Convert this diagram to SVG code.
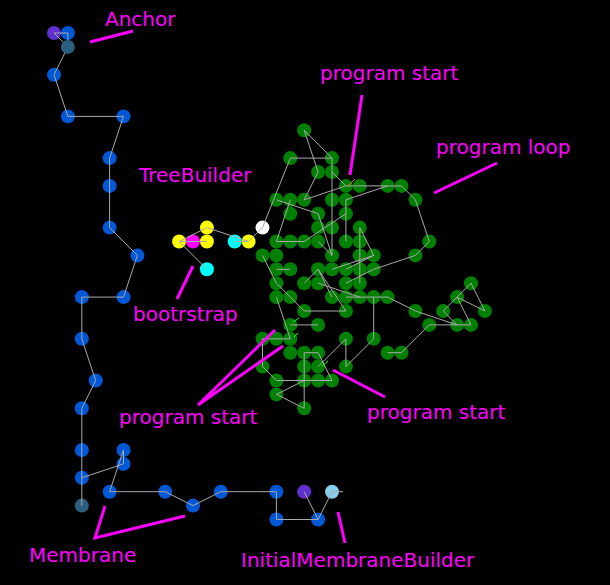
<svg xmlns="http://www.w3.org/2000/svg" width="610" height="585" viewBox="0 0 610 585">
<style>
.e{stroke:#aaaaaa;stroke-width:1;fill:none}
.a{stroke:#ff00ff;stroke-width:3;fill:none}
.t{fill:#ff00ff;font-family:"DejaVu Sans",sans-serif;font-size:20px}
.b{fill:#0058d6}
.g{fill:#008000}
.p{fill:#5f2fcf}
.tl{fill:#2a5f80}
.y{fill:#ffff00}
.m{fill:#ff00ff}
.c{fill:#00ffff}
.w{fill:#ffffff}
.lb{fill:#87ceeb}
</style>
<rect width="610" height="585" fill="#000000"/>

<g id="membrane-nodes">
<g id="m1"><circle class="p" cx="54" cy="33" r="7"/></g>
<g id="m2"><circle class="b" cx="67.9" cy="33" r="7"/></g>
<g id="m4"><circle class="b" cx="54" cy="74.7" r="7"/></g>
<g id="m5"><circle class="b" cx="67.9" cy="116.4" r="7"/></g>
<g id="m6"><circle class="b" cx="123.5" cy="116.4" r="7"/></g>
<g id="m7"><circle class="b" cx="109.6" cy="158.1" r="7"/></g>
<g id="m8"><circle class="b" cx="109.6" cy="185.9" r="7"/></g>
<g id="m9"><circle class="b" cx="109.6" cy="227.6" r="7"/></g>
<g id="m10"><circle class="b" cx="137.4" cy="255.4" r="7"/></g>
<g id="m11"><circle class="b" cx="123.5" cy="297.1" r="7"/></g>
<g id="m12"><circle class="b" cx="81.8" cy="297.1" r="7"/></g>
<g id="m13"><circle class="b" cx="81.8" cy="338.8" r="7"/></g>
<g id="m14"><circle class="b" cx="95.7" cy="380.5" r="7"/></g>
<g id="m15"><circle class="b" cx="81.8" cy="408.3" r="7"/></g>
<g id="m16"><circle class="b" cx="81.8" cy="450" r="7"/></g>
<g id="m17"><circle class="b" cx="123.5" cy="450" r="7"/></g>
<g id="m18"><circle class="b" cx="123.5" cy="463.9" r="7"/></g>
<g id="m19"><circle class="b" cx="81.8" cy="477.8" r="7"/></g>
<g id="m20"><circle class="tl" cx="81.8" cy="505.6" r="7"/></g>
<g id="m21"><circle class="b" cx="109.6" cy="491.7" r="7"/></g>
<g id="m22"><circle class="b" cx="165.2" cy="491.7" r="7"/></g>
<g id="m23"><circle class="b" cx="193" cy="505.6" r="7"/></g>
<g id="m24"><circle class="b" cx="220.8" cy="491.7" r="7"/></g>
<g id="m25"><circle class="b" cx="276.4" cy="491.7" r="7"/></g>
<g id="m26"><circle class="b" cx="276.4" cy="519.5" r="7"/></g>
<g id="m27"><circle class="b" cx="318.1" cy="519.5" r="7"/></g>
<g id="m28"><circle class="p" cx="304.2" cy="491.7" r="7"/></g>
<g id="m29"><circle class="lb" cx="332" cy="491.7" r="7"/></g>
</g>

<g id="bootstrap-nodes">
<g id="t1"><circle class="y" cx="206.9" cy="227.6" r="7"/></g>
<g id="t2"><circle class="y" cx="179.1" cy="241.5" r="7"/></g>
<g id="t3"><circle class="m" cx="193" cy="241.5" r="7"/></g>
<g id="t4"><circle class="y" cx="206.9" cy="241.5" r="7"/></g>
<g id="t5"><circle class="c" cx="234.7" cy="241.5" r="7"/></g>
<g id="t6"><circle class="y" cx="248.6" cy="241.5" r="7"/></g>
<g id="t7"><circle class="w" cx="262.5" cy="227.6" r="7"/></g>
<g id="t8"><circle class="c" cx="206.9" cy="269.3" r="7"/></g>
</g>

<g id="program-nodes">
<g id="g18-7"><circle class="g" cx="304.2" cy="130.3" r="7"/></g>
<g id="g17-9"><circle class="g" cx="290.3" cy="158.1" r="7"/></g>
<g id="g20-9"><circle class="g" cx="332" cy="158.1" r="7"/></g>
<g id="g19-10"><circle class="g" cx="318.1" cy="172" r="7"/></g>
<g id="g20-10"><circle class="g" cx="332" cy="172" r="7"/></g>
<g id="g21-11"><circle class="g" cx="345.9" cy="185.9" r="7"/></g>
<g id="g22-11"><circle class="g" cx="359.8" cy="185.9" r="7"/></g>
<g id="g24-11"><circle class="g" cx="387.6" cy="185.9" r="7"/></g>
<g id="g25-11"><circle class="g" cx="401.5" cy="185.9" r="7"/></g>
<g id="g16-12"><circle class="g" cx="276.4" cy="199.8" r="7"/></g>
<g id="g17-12"><circle class="g" cx="290.3" cy="199.8" r="7"/></g>
<g id="g18-12"><circle class="g" cx="304.2" cy="199.8" r="7"/></g>
<g id="g20-12"><circle class="g" cx="332" cy="199.8" r="7"/></g>
<g id="g21-12"><circle class="g" cx="345.9" cy="199.8" r="7"/></g>
<g id="g26-12"><circle class="g" cx="415.4" cy="199.8" r="7"/></g>
<g id="g17-13"><circle class="g" cx="290.3" cy="213.7" r="7"/></g>
<g id="g19-13"><circle class="g" cx="318.1" cy="213.7" r="7"/></g>
<g id="g21-13"><circle class="g" cx="345.9" cy="213.7" r="7"/></g>
<g id="g19-14"><circle class="g" cx="318.1" cy="227.6" r="7"/></g>
<g id="g20-14"><circle class="g" cx="332" cy="227.6" r="7"/></g>
<g id="g22-14"><circle class="g" cx="359.8" cy="227.6" r="7"/></g>
<g id="g16-15"><circle class="g" cx="276.4" cy="241.5" r="7"/></g>
<g id="g17-15"><circle class="g" cx="290.3" cy="241.5" r="7"/></g>
<g id="g18-15"><circle class="g" cx="304.2" cy="241.5" r="7"/></g>
<g id="g19-15"><circle class="g" cx="318.1" cy="241.5" r="7"/></g>
<g id="g21-15"><circle class="g" cx="345.9" cy="241.5" r="7"/></g>
<g id="g22-15"><circle class="g" cx="359.8" cy="241.5" r="7"/></g>
<g id="g27-15"><circle class="g" cx="429.3" cy="241.5" r="7"/></g>
<g id="g15-16"><circle class="g" cx="262.5" cy="255.4" r="7"/></g>
<g id="g16-16"><circle class="g" cx="276.4" cy="255.4" r="7"/></g>
<g id="g20-16"><circle class="g" cx="332" cy="255.4" r="7"/></g>
<g id="g22-16"><circle class="g" cx="359.8" cy="255.4" r="7"/></g>
<g id="g23-16"><circle class="g" cx="373.7" cy="255.4" r="7"/></g>
<g id="g26-16"><circle class="g" cx="415.4" cy="255.4" r="7"/></g>
<g id="g16-17"><circle class="g" cx="276.4" cy="269.3" r="7"/></g>
<g id="g17-17"><circle class="g" cx="290.3" cy="269.3" r="7"/></g>
<g id="g19-17"><circle class="g" cx="318.1" cy="269.3" r="7"/></g>
<g id="g20-17"><circle class="g" cx="332" cy="269.3" r="7"/></g>
<g id="g21-17"><circle class="g" cx="345.9" cy="269.3" r="7"/></g>
<g id="g22-17"><circle class="g" cx="359.8" cy="269.3" r="7"/></g>
<g id="g23-17"><circle class="g" cx="373.7" cy="269.3" r="7"/></g>
<g id="g16-18"><circle class="g" cx="276.4" cy="283.2" r="7"/></g>
<g id="g18-18"><circle class="g" cx="304.2" cy="283.2" r="7"/></g>
<g id="g19-18"><circle class="g" cx="318.1" cy="283.2" r="7"/></g>
<g id="g21-18"><circle class="g" cx="345.9" cy="283.2" r="7"/></g>
<g id="g22-18"><circle class="g" cx="359.8" cy="283.2" r="7"/></g>
<g id="g30-18"><circle class="g" cx="471" cy="283.2" r="7"/></g>
<g id="g16-19"><circle class="g" cx="276.4" cy="297.1" r="7"/></g>
<g id="g17-19"><circle class="g" cx="290.3" cy="297.1" r="7"/></g>
<g id="g20-19"><circle class="g" cx="332" cy="297.1" r="7"/></g>
<g id="g21-19"><circle class="g" cx="345.9" cy="297.1" r="7"/></g>
<g id="g22-19"><circle class="g" cx="359.8" cy="297.1" r="7"/></g>
<g id="g23-19"><circle class="g" cx="373.7" cy="297.1" r="7"/></g>
<g id="g24-19"><circle class="g" cx="387.6" cy="297.1" r="7"/></g>
<g id="g29-19"><circle class="g" cx="457.1" cy="297.1" r="7"/></g>
<g id="g18-20"><circle class="g" cx="304.2" cy="311" r="7"/></g>
<g id="g21-20"><circle class="g" cx="345.9" cy="311" r="7"/></g>
<g id="g26-20"><circle class="g" cx="415.4" cy="311" r="7"/></g>
<g id="g28-20"><circle class="g" cx="443.2" cy="311" r="7"/></g>
<g id="g31-20"><circle class="g" cx="484.9" cy="311" r="7"/></g>
<g id="g17-21"><circle class="g" cx="290.3" cy="324.9" r="7"/></g>
<g id="g19-21"><circle class="g" cx="318.1" cy="324.9" r="7"/></g>
<g id="g27-21"><circle class="g" cx="429.3" cy="324.9" r="7"/></g>
<g id="g29-21"><circle class="g" cx="457.1" cy="324.9" r="7"/></g>
<g id="g30-21"><circle class="g" cx="471" cy="324.9" r="7"/></g>
<g id="g15-22"><circle class="g" cx="262.5" cy="338.8" r="7"/></g>
<g id="g16-22"><circle class="g" cx="276.4" cy="338.8" r="7"/></g>
<g id="g17-22"><circle class="g" cx="290.3" cy="338.8" r="7"/></g>
<g id="g21-22"><circle class="g" cx="345.9" cy="338.8" r="7"/></g>
<g id="g23-22"><circle class="g" cx="373.7" cy="338.8" r="7"/></g>
<g id="g17-23"><circle class="g" cx="290.3" cy="352.7" r="7"/></g>
<g id="g18-23"><circle class="g" cx="304.2" cy="352.7" r="7"/></g>
<g id="g19-23"><circle class="g" cx="318.1" cy="352.7" r="7"/></g>
<g id="g24-23"><circle class="g" cx="387.6" cy="352.7" r="7"/></g>
<g id="g25-23"><circle class="g" cx="401.5" cy="352.7" r="7"/></g>
<g id="g15-24"><circle class="g" cx="262.5" cy="366.6" r="7"/></g>
<g id="g18-24"><circle class="g" cx="304.2" cy="366.6" r="7"/></g>
<g id="g19-24"><circle class="g" cx="318.1" cy="366.6" r="7"/></g>
<g id="g21-24"><circle class="g" cx="345.9" cy="366.6" r="7"/></g>
<g id="g16-25"><circle class="g" cx="276.4" cy="380.5" r="7"/></g>
<g id="g18-25"><circle class="g" cx="304.2" cy="380.5" r="7"/></g>
<g id="g19-25"><circle class="g" cx="318.1" cy="380.5" r="7"/></g>
<g id="g20-25"><circle class="g" cx="332" cy="380.5" r="7"/></g>
<g id="g16-26"><circle class="g" cx="276.4" cy="394.4" r="7"/></g>
<g id="g18-27"><circle class="g" cx="304.2" cy="408.3" r="7"/></g>
</g>

<g id="connectors">
<polyline class="e" points="67.9,33 54,33 67.9,46.9 67.9,33"/>
<polyline class="e" points="67.9,46.9 54,74.7 67.9,116.4 123.5,116.4 109.6,158.1 109.6,227.6 137.4,255.4 123.5,297.1 81.8,297.1 81.8,338.8 95.7,380.5 81.8,408.3 81.8,505.6"/>
<polyline class="e" points="81.8,477.8 123.5,463.9 123.5,450 109.6,491.7 165.2,491.7 193,505.6 220.8,491.7 276.4,491.7 276.4,519.5 318.1,519.5 304.2,491.7"/>
<polyline class="e" points="318.1,519.5 332,491.7 343,491.7"/>
<polyline class="e" points="206.9,269.3 179.1,241.5 206.9,241.5"/>
<polyline class="e" points="179.1,241.5 206.9,227.6 248.6,241.5 234.7,241.5"/>
<polyline class="e" points="248.6,241.5 262.5,227.6 290.3,158.1 332,158.1 304.2,130.3 318.1,172 304.2,199.8 345.9,185.9 401.5,185.9 415.4,199.8 429.3,241.5 415.4,255.4 373.7,269.3 345.9,283.2"/>
<line class="e" x1="332" y1="158.1" x2="332" y2="255.4"/>
<line class="e" x1="332" y1="172" x2="345.9" y2="185.9"/>
<polyline class="e" points="276.4,199.8 318.1,213.7 332,255.4"/>
<line class="e" x1="290.3" y1="199.8" x2="276.4" y2="241.5"/>
<polyline class="e" points="276.4,241.5 304.2,241.5 345.9,213.7"/>
<line class="e" x1="318.1" y1="241.5" x2="332" y2="255.4"/>
<line class="e" x1="345.9" y1="199.8" x2="345.9" y2="241.5"/>
<line class="e" x1="345.9" y1="199.8" x2="387.6" y2="185.9"/>
<line class="e" x1="359.8" y1="227.6" x2="359.8" y2="283.2"/>
<polyline class="e" points="359.8,227.6 373.7,255.4 345.9,269.3"/>
<line class="e" x1="332" y1="269.3" x2="373.7" y2="255.4"/>
<polyline class="e" points="262.5,255.4 276.4,283.2 290.3,297.1 304.2,311 345.9,311 318.1,269.3"/>
<line class="e" x1="276.4" y1="269.3" x2="290.3" y2="269.3"/>
<polyline class="e" points="304.2,283.2 318.1,269.3 332,297.1"/>
<line class="e" x1="318.1" y1="283.2" x2="359.8" y2="297.1"/>
<polyline class="e" points="345.9,297.1 387.6,297.1 415.4,311 457.1,324.9"/>
<polyline class="e" points="401.5,352.7 429.3,324.9 471,324.9 457.1,297.1 471,283.2 484.9,311 457.1,297.1 443.2,311 457.1,324.9"/>
<line class="e" x1="387.6" y1="352.7" x2="401.5" y2="352.7"/>
<line class="e" x1="373.7" y1="338.8" x2="373.7" y2="297.1"/>
<line class="e" x1="290.3" y1="324.9" x2="318.1" y2="324.9"/>
<line class="e" x1="276.4" y1="297.1" x2="290.3" y2="338.8"/>
<polyline class="e" points="290.3,338.8 262.5,338.8 262.5,366.6 276.4,380.5 332,380.5"/>
<polyline class="e" points="304.2,380.5 276.4,394.4 304.2,408.3 304.2,352.7 318.1,352.7 332,380.5"/>
<polyline class="e" points="318.1,366.6 345.9,338.8 345.9,366.6 373.7,338.8"/>
<line x1="348" y1="186" x2="355" y2="179" stroke="#ff7f00" stroke-width="1"/>
<line x1="293" y1="322" x2="299" y2="318" stroke="#00ff00" stroke-width="1"/>
<line x1="294" y1="337" x2="298" y2="333" stroke="#00ff00" stroke-width="1"/>
<line x1="322" y1="366" x2="328" y2="361" stroke="#00ff00" stroke-width="1"/>
</g>
<g id="teal-anchor"><circle class="tl" cx="67.9" cy="46.9" r="7"/></g>

<g id="annotations">
<line class="a" x1="90" y1="42" x2="133" y2="31"/>
<line class="a" x1="362" y1="95" x2="350" y2="175"/>
<line class="a" x1="434" y1="193" x2="497" y2="163"/>
<line class="a" x1="193" y1="266" x2="177" y2="299"/>
<polyline class="a" points="275,330 198,405 283,346"/>
<line class="a" x1="333" y1="370" x2="385" y2="397"/>
<polyline class="a" points="105,506 95,538 185,516"/>
<line class="a" x1="338" y1="512" x2="345" y2="543"/>
<text class="t" x="105" y="26">Anchor</text>
<text class="t" x="320" y="80">program start</text>
<text class="t" x="436" y="154">program loop</text>
<text class="t" x="139" y="182">TreeBuilder</text>
<text class="t" x="133" y="321">bootrstrap</text>
<text class="t" x="119" y="424">program start</text>
<text class="t" x="367" y="419">program start</text>
<text class="t" x="29" y="562">Membrane</text>
<text class="t" x="241" y="567">InitialMembraneBuilder</text>
</g>
</svg>
